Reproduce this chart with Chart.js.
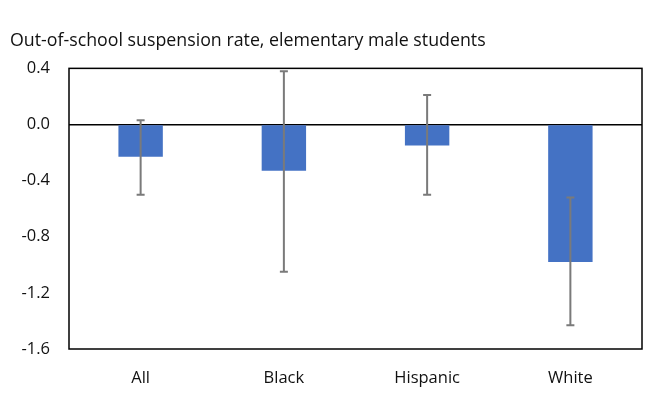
<!DOCTYPE html>
<html>
<head>
<meta charset="utf-8">
<script src="https://cdn.jsdelivr.net/npm/chart.js@4/dist/chart.umd.min.js"></script>
<style>
  html, body { margin: 0; padding: 0; background: #fff; }
  #wrap { width: 655px; height: 397px; }
</style>
</head>
<body>
<div id="wrap"><canvas id="c" width="655" height="397"></canvas></div>
<script>
// Groups and estimates
const categories = ['All', 'Black', 'Hispanic', 'White'];
const estimates = [-0.23, -0.33, -0.15, -0.98];
const ciLower = [-0.50, -1.05, -0.50, -1.43];
const ciUpper = [0.03, 0.38, 0.21, -0.52];
const yTicks = [0.4, 0.0, -0.4, -0.8, -1.2, -1.6];

const FONT = "'Open Sans', 'Liberation Sans', sans-serif";

// Confidence-interval whiskers drawn over each bar
const errorBars = {
  id: 'errorBars',
  afterDatasetsDraw(chart) {
    const ctx = chart.ctx;
    const y = chart.scales.y;
    const meta = chart.getDatasetMeta(0);
    ctx.save();
    ctx.strokeStyle = '#7a7a7a';
    ctx.lineWidth = 2;
    meta.data.forEach((bar, i) => {
      const x = bar.x;
      const yTop = y.getPixelForValue(ciUpper[i]);
      const yBot = y.getPixelForValue(ciLower[i]);
      const cap = 4;
      ctx.beginPath();
      ctx.moveTo(x, yTop); ctx.lineTo(x, yBot);
      ctx.moveTo(x - cap, yTop); ctx.lineTo(x + cap, yTop);
      ctx.moveTo(x - cap, yBot); ctx.lineTo(x + cap, yBot);
      ctx.stroke();
    });
    ctx.restore();
  }
};

// Box around the plotting area
const frame = {
  id: 'frame',
  afterDraw(chart) {
    const a = chart.chartArea;
    const ctx = chart.ctx;
    ctx.save();
    ctx.strokeStyle = '#000';
    ctx.lineWidth = 1.5;
    ctx.strokeRect(a.left, a.top, a.right - a.left, a.bottom - a.top);
    ctx.restore();
  }
};

new Chart(document.getElementById('c'), {
  type: 'bar',
  data: {
    labels: categories,
    datasets: [{
      data: estimates,
      backgroundColor: '#4472C4',
      borderWidth: 0,
      barPercentage: 0.31,
      categoryPercentage: 1.0
    }]
  },
  options: {
    responsive: false,
    animation: false,
    layout: { padding: { left: 10, right: 13, top: 0, bottom: 0 } },
    plugins: {
      legend: { display: false },
      tooltip: { enabled: false },
      title: {
        display: true,
        text: 'Out-of-school suspension rate, elementary male students',
        align: 'start',
        color: '#111',
        font: { family: FONT, size: 17.8, weight: 'normal' },
        padding: { top: 30, bottom: 17 }
      }
    },
    scales: {
      x: {
        grid: { display: false },
        border: { display: false },
        afterFit(axis) { axis.height = 48; },
        ticks: {
          color: '#111',
          font: { family: FONT, size: 16.5 },
          padding: 11
        }
      },
      y: {
        min: -1.6,
        max: 0.4,
        afterBuildTicks(axis) {
          axis.ticks = yTicks.map(v => ({ value: v }));
        },
        afterFit(axis) { axis.width = 59; },
        border: { display: false },
        grid: {
          drawTicks: false,
          color: ctx => (ctx.tick && ctx.tick.value === 0 ? '#000' : 'rgba(0,0,0,0)'),
          lineWidth: 1.5
        },
        ticks: {
          color: '#111',
          font: { family: FONT, size: 16.5 },
          padding: 19,
          callback: v => Number(v).toFixed(1)
        }
      }
    }
  },
  plugins: [errorBars, frame]
});
</script>
</body>
</html>
